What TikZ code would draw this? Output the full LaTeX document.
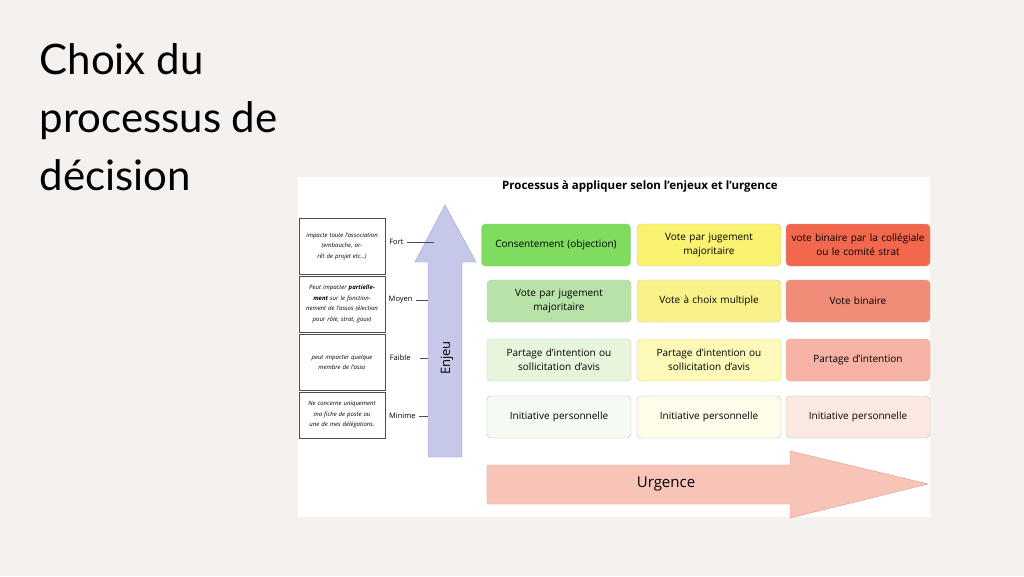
\documentclass[tikz,border=0pt]{standalone}
\usepackage{fontspec}
\setmainfont{Open Sans}
\newfontfamily\titlefont{Lato}
\begin{document}
\begin{tikzpicture}[x=1pt,y=-1pt,
 cell/.style={draw=#1!70!black!60, rounded corners=4pt, inner sep=2pt, minimum width=144pt, minimum height=42pt, align=center, font=\fontsize{10}{14}\selectfont, text width=138pt},
 lbox/.style={draw=black!70, fill=white, inner sep=2pt, minimum width=86pt, align=center, text width=74pt, font=\fontsize{6}{10.5}\selectfont\itshape},
 lev/.style={font=\fontsize{7.5}{9}\selectfont, anchor=east},
 tick/.style={draw=black!70, thin}]
\fill[fill={rgb,255:red,245;green,241;blue,238}] (0,0) rectangle (1024,576);
\useasboundingbox (0,0) rectangle (1024,576);
\node[anchor=north west, align=left, font=\fontsize{42}{58}\selectfont\titlefont] (title) at (36,40) {Choix du\\processus de\\décision};
\fill[white] (298,177) rectangle (930,517);
\node[font=\bfseries\fontsize{11.5}{13}\selectfont] (head) at (640,186) {Processus à appliquer selon l'enjeux et l'urgence};
% left boxes
\node[lbox, minimum height=56pt] (b1) at (342,246) {impacte toute l'association (embauche, arrêt de projet etc...)};
\node[lbox, minimum height=56pt] (b2) at (342,304) {Peut impacter {\bfseries partiellement} sur le fonctionnement de l'assos (élection pour rôle, strat, gouv)};
\node[lbox, minimum height=56pt] (b3) at (342,362) {peut impacter quelque membre de l'asso};
\node[lbox, minimum height=46pt] (b4) at (342,415) {Ne concerne uniquement ma fiche de poste ou une de mes délégations.};
% Enjeu arrow
\draw[fill={rgb,255:red,197;green,200;blue,232}, draw={rgb,255:red,160;green,160;blue,210}] (428,457) -- (428,262) -- (415,262) -- (445,205) -- (476,262) -- (462,262) -- (462,457) -- cycle;
\node[rotate=90, font=\fontsize{13}{15}\selectfont] (enjeu) at (447,358) {Enjeu};
\node[lev] (l1) at (407,242) {Fort};
\node[lev] (l2) at (416,300) {Moyen};
\node[lev] (l3) at (414,358) {Faible};
\node[lev] (l4) at (419,416) {Minime};
\coordinate (t1) at (434,242); \coordinate (t2) at (428,300); \coordinate (t3) at (428,358); \coordinate (t4) at (428,416);
\draw[tick] (l1.east) -- (t1); \draw[tick] (l2.east) -- (t2);
\draw[tick] ([xshift=6pt]l3.east) -- (t3); \draw[tick] (l4.east) -- (t4);
% grid
\definecolor{g1}{HTML}{7FDC5E}\definecolor{y1}{HTML}{F9F271}\definecolor{r1}{HTML}{F2684E}
\definecolor{g2}{HTML}{B8E3A8}\definecolor{y2}{HTML}{F9F28A}\definecolor{r2}{HTML}{F08C78}
\definecolor{g3}{HTML}{E6F5DC}\definecolor{y3}{HTML}{FDF9B8}\definecolor{r3}{HTML}{F7B3A5}
\definecolor{g4}{HTML}{F5FAF2}\definecolor{y4}{HTML}{FEFDEA}\definecolor{r4}{HTML}{FCE8E3}
\node[cell=g1, fill=g1, minimum width=149pt] (c11) at (556,245) {Consentement (objection)};
\node[cell=y1, fill=y1] (c12) at (709,245) {Vote par jugement\\majoritaire};
\node[cell=r1, fill=r1] (c13) at (858,245) {vote binaire par la collégiale\\ou le comité strat};
\node[cell=g2, fill=g2] (c21) at (559,301) {Vote par jugement\\majoritaire};
\node[cell=y2, fill=y2] (c22) at (709,301) {Vote à choix multiple};
\node[cell=r2, fill=r2] (c23) at (858,301) {Vote binaire};
\node[cell=g3, fill=g3] (c31) at (559,360) {Partage d'intention ou\\sollicitation d'avis};
\node[cell=y3, fill=y3] (c32) at (709,360) {Partage d'intention ou\\sollicitation d'avis};
\node[cell=r3, fill=r3] (c33) at (858,360) {Partage d'intention};
\node[cell=g4, fill=g4, draw=black!25] (c41) at (559,417) {Initiative personnelle};
\node[cell=y4, fill=y4, draw=black!25] (c42) at (709,417) {Initiative personnelle};
\node[cell=r4, fill=r4, draw=black!25] (c43) at (858,417) {Initiative personnelle};
% Urgence arrow
\draw[fill={rgb,255:red,247;green,196;blue,183}, draw={rgb,255:red,224;green,154;blue,136}] (487,465) -- (790,465) -- (790,451) -- (928,484) -- (790,518) -- (790,504) -- (487,504) -- cycle;
\node[font=\fontsize{15}{17}\selectfont] (urg) at (666,484) {Urgence};
\end{tikzpicture}
\end{document}
